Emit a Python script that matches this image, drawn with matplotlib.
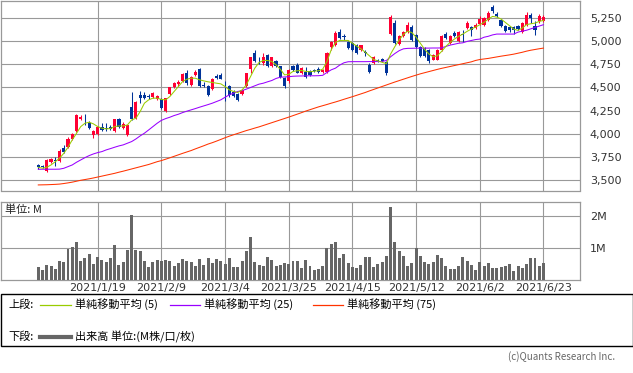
import numpy as np
import matplotlib
matplotlib.use('Agg')
import matplotlib.pyplot as plt
from matplotlib.lines import Line2D
from matplotlib.patches import Rectangle

# daily OHLC (yen), 2020/12 - 2021/6/23
opens = [3665, 3655, 3605, 3700, 3715, 3712, 3845, 3860, 3945, 4030,
         4160, 4165, 4115, 3990, 4000, 4075, 4065, 4075, 4030, 4160,
         4065, 3990, 4290, 4170, 4420, 4420, 4405, 4395, 4370, 4375,
         4250, 4430, 4505, 4540, 4565, 4660, 4530, 4635, 4695, 4530,
         4510, 4485, 4625, 4630, 4520, 4510, 4455, 4430, 4430, 4510,
         4700, 4865, 4795, 4760, 4850, 4725, 4780, 4725, 4600, 4565,
         4725, 4745, 4655, 4670, 4675, 4690, 4700, 4665, 4670, 4940,
         4960, 5100, 5050, 4990, 4975, 4955, 4900, 4880, 4740, 4765,
         4800, 4810, 4775, 5080, 5190, 4970, 5050, 5100, 5150, 5060,
         4930, 4920, 4900, 4800, 4800, 4905, 5075, 4980, 5085, 5000,
         5080, 5140, 5150, 5140, 5185, 5175, 5230, 5370, 5295, 5230,
         5165, 5150, 5150, 5160, 5100, 5175, 5280, 5165, 5210, 5215]
highs = [3680, 3665, 3725, 3745, 3750, 3840, 3875, 3965, 4010, 4215,
         4200, 4215, 4135, 4045, 4085, 4120, 4120, 4100, 4165, 4170,
         4125, 4100, 4455, 4350, 4465, 4450, 4430, 4450, 4420, 4385,
         4390, 4505, 4560, 4580, 4650, 4690, 4620, 4690, 4710, 4560,
         4525, 4600, 4645, 4660, 4565, 4530, 4470, 4440, 4480, 4660,
         4830, 4905, 4830, 4865, 4860, 4830, 4790, 4735, 4610, 4700,
         4745, 4760, 4720, 4720, 4690, 4700, 4720, 4700, 4880, 5000,
         5110, 5130, 5070, 5000, 4990, 4965, 4960, 4900, 4760, 4840,
         4810, 4820, 4785, 5280, 5230, 5060, 5110, 5200, 5170, 5080,
         4945, 4930, 4910, 4860, 4910, 5060, 5100, 5060, 5110, 5110,
         5120, 5215, 5160, 5190, 5270, 5260, 5325, 5385, 5310, 5240,
         5175, 5160, 5165, 5170, 5200, 5310, 5300, 5210, 5290, 5280]
lows = [3625, 3630, 3590, 3685, 3655, 3695, 3795, 3850, 3930, 4020,
        4150, 4100, 4050, 3955, 3990, 4030, 4035, 4040, 4020, 4060,
        4055, 3975, 4150, 4160, 4330, 4380, 4370, 4385, 4360, 4270,
        4240, 4420, 4495, 4520, 4555, 4530, 4520, 4625, 4505, 4500,
        4405, 4475, 4585, 4590, 4350, 4400, 4395, 4350, 4420, 4500,
        4650, 4770, 4750, 4745, 4715, 4715, 4720, 4605, 4490, 4550,
        4680, 4650, 4640, 4600, 4620, 4665, 4650, 4650, 4660, 4900,
        4950, 5020, 5010, 4910, 4895, 4860, 4890, 4840, 4650, 4755,
        4775, 4770, 4630, 5065, 4965, 4960, 5040, 5090, 5000, 4920,
        4830, 4830, 4760, 4790, 4790, 4895, 5020, 4970, 5040, 4990,
        4990, 5130, 5050, 5130, 5175, 5165, 5220, 5300, 5255, 5150,
        5095, 5100, 5080, 5120, 5090, 5165, 5190, 5065, 5195, 5205]
closes = [3640, 3645, 3715, 3725, 3705, 3815, 3805, 3940, 3995, 4200,
          4185, 4155, 4065, 4035, 4075, 4045, 4050, 4055, 4155, 4070,
          4110, 4095, 4160, 4345, 4385, 4390, 4400, 4440, 4405, 4280,
          4385, 4500, 4550, 4555, 4640, 4550, 4610, 4670, 4520, 4515,
          4420, 4590, 4600, 4595, 4510, 4420, 4405, 4365, 4470, 4650,
          4825, 4780, 4790, 4825, 4725, 4825, 4730, 4615, 4510, 4690,
          4690, 4660, 4705, 4615, 4630, 4680, 4665, 4690, 4870, 4985,
          5085, 5030, 5040, 4920, 4905, 4870, 4955, 4870, 4670, 4830,
          4785, 4780, 4650, 5260, 4975, 5050, 5100, 5170, 5010, 4930,
          4840, 4840, 4780, 4850, 4905, 5055, 5030, 5050, 5050, 5100,
          5060, 5190, 5120, 5175, 5235, 5245, 5300, 5320, 5265, 5160,
          5105, 5120, 5120, 5130, 5190, 5280, 5245, 5120, 5265, 5260]

ma5 = [3640, 3630, 3640, 3665, 3700, 3737, 3790, 3855, 3935, 4005,
       4078, 4114, 4125, 4107, 4078, 4060, 4053, 4057, 4078, 4085,
       4085, 4096, 4150, 4168, 4240, 4330, 4366, 4384, 4384, 4370,
       4366, 4402, 4456, 4509, 4563, 4588, 4599, 4599, 4581, 4570,
       4560, 4553, 4545, 4538, 4509, 4473, 4456, 4445, 4473, 4527,
       4617, 4707, 4768, 4790, 4790, 4779, 4743, 4696, 4635, 4640,
       4672, 4679, 4682, 4672, 4668, 4675, 4679, 4697, 4779, 4905,
       4984, 5005, 5006, 5005, 4975, 4945, 4915, 4880, 4840, 4800,
       4785, 4770, 4755, 4860, 4940, 5010, 5070, 5105, 5090, 5040,
       4975, 4910, 4860, 4830, 4840, 4887, 4941, 4984, 5020, 5049,
       5074, 5103, 5128, 5149, 5175, 5200, 5236, 5264, 5257, 5236,
       5200, 5164, 5128, 5113, 5139, 5175, 5185, 5192, 5210, 5221]
ma25 = [3619, 3619, 3619, 3619, 3619, 3620, 3629, 3647, 3665, 3694,
        3719, 3744, 3766, 3784, 3798, 3809, 3827, 3841, 3856, 3870,
        3881, 3899, 3917, 3945, 3978, 4007, 4042, 4078, 4114, 4145,
        4164, 4179, 4197, 4211, 4229, 4244, 4258, 4272, 4287, 4301,
        4315, 4330, 4348, 4366, 4394, 4420, 4438, 4456, 4466, 4481,
        4499, 4517, 4535, 4545, 4560, 4574, 4596, 4610, 4612, 4615,
        4620, 4622, 4623, 4624, 4625, 4625, 4626, 4630, 4661, 4689,
        4707, 4740, 4765, 4776, 4777, 4777, 4777, 4777, 4778, 4778,
        4778, 4779, 4790, 4830, 4865, 4895, 4915, 4920, 4921, 4922,
        4923, 4923, 4923, 4924, 4924, 4925, 4941, 4955, 4965, 4975,
        4980, 4995, 5005, 5015, 5020, 5040, 5050, 5065, 5074, 5074,
        5074, 5074, 5074, 5095, 5105, 5115, 5130, 5145, 5160, 5175]
ma75 = [3450, 3451, 3452, 3454, 3456, 3459, 3465, 3472, 3480, 3490,
        3500, 3508, 3516, 3525, 3535, 3545, 3555, 3565, 3575, 3587,
        3598, 3610, 3622, 3634, 3646, 3658, 3670, 3685, 3700, 3712,
        3727, 3742, 3758, 3774, 3790, 3805, 3820, 3838, 3855, 3872,
        3890, 3905, 3922, 3940, 3958, 3975, 3990, 4005, 4020, 4035,
        4048, 4062, 4075, 4090, 4105, 4120, 4135, 4150, 4165, 4180,
        4196, 4212, 4228, 4245, 4260, 4275, 4290, 4303, 4316, 4330,
        4343, 4357, 4372, 4386, 4400, 4415, 4430, 4445, 4462, 4478,
        4494, 4510, 4526, 4542, 4558, 4573, 4588, 4603, 4618, 4632,
        4646, 4658, 4670, 4682, 4694, 4705, 4715, 4725, 4735, 4745,
        4755, 4765, 4775, 4790, 4800, 4806, 4812, 4820, 4828, 4836,
        4843, 4850, 4858, 4868, 4878, 4890, 4900, 4908, 4916, 4923]

# volume in millions
volume = [0.42, 0.32, 0.47, 0.45, 0.35, 0.60, 0.57, 0.98, 1.04, 1.20,
          0.60, 0.70, 0.82, 0.51, 0.73, 0.64, 0.57, 0.70, 1.10, 0.48,
          0.57, 0.95, 2.04, 0.95, 0.92, 0.60, 0.42, 0.57, 0.64, 0.60,
          0.64, 0.60, 0.45, 0.54, 0.67, 0.60, 0.57, 0.45, 0.67, 0.48,
          0.70, 0.54, 0.67, 0.60, 0.51, 0.70, 0.42, 0.42, 0.60, 0.92,
          1.35, 0.57, 0.48, 0.45, 0.73, 0.64, 0.45, 0.48, 0.54, 0.51,
          0.60, 0.60, 0.39, 0.64, 0.45, 0.32, 0.35, 0.45, 1.01, 1.14,
          1.20, 0.70, 0.82, 0.54, 0.42, 0.39, 0.48, 0.73, 0.73, 0.42,
          0.51, 0.57, 0.76, 2.29, 1.20, 0.92, 0.76, 0.45, 0.54, 1.00,
          0.76, 0.57, 0.51, 0.57, 0.79, 0.70, 0.45, 0.35, 0.35, 0.45,
          0.73, 0.60, 0.48, 0.32, 0.57, 0.45, 0.54, 0.39, 0.39, 0.42,
          0.45, 0.51, 0.29, 0.45, 0.39, 0.51, 0.70, 0.70, 0.45, 0.54]

date_ticks = [14, 29, 44, 59, 74, 89, 104, 119]
date_labels = ['2021/1/19', '2021/2/9', '2021/3/4', '2021/3/25',
               '2021/4/15', '2021/5/12', '2021/6/2', '2021/6/23']
price_ticks = [3500, 3750, 4000, 4250, 4500, 4750, 5000, 5250]

jp = ['Noto Sans CJK JP', 'DejaVu Sans']
UP, DOWN = '#ff0033', '#003399'
GRID = '#999999'

o = np.array(opens); h = np.array(highs); l = np.array(lows); c = np.array(closes)
x = np.arange(len(c))
colors = np.where(c >= o, UP, DOWN)

W, H = 633, 373
fig = plt.figure(figsize=(W / 100, H / 100), dpi=100)


def box(x0, y0, x1, y1):
    return [x0 / W, 1 - y1 / H, (x1 - x0) / W, (y1 - y0) / H]


ax = fig.add_axes(box(0.5, 1, 580, 190.5))
axv = fig.add_axes(box(0.5, 201.7, 580, 280.3))

for a in (ax, axv):
    a.set_xlim(-8.9, 127.6)
    a.set_xticks(date_ticks)
    a.grid(True, color=GRID, lw=0.8)
    a.set_axisbelow(True)
    for s in a.spines.values():
        s.set_color(GRID)
        s.set_linewidth(0.9)
    a.yaxis.tick_right()
    a.tick_params(axis='both', length=0, colors='#333333', labelsize=8)

# price panel
ax.vlines(x, l, h, color=colors, lw=0.75, zorder=2)
ax.bar(x, np.maximum(np.abs(c - o), 10), bottom=np.minimum(o, c), width=0.74,
       color=colors, lw=0, zorder=3)
ax.plot(x, ma75, color='#ff3300', lw=0.75, zorder=4)
ax.plot(x, ma25, color='#9900ff', lw=0.75, zorder=4)
ax.plot(x, ma5, color='#99cc00', lw=0.75, zorder=4)
ax.set_ylim(3390, 5430)
ax.set_yticks(price_ticks)
ax.set_yticklabels([f'{p:,}' for p in price_ticks])
ax.tick_params(axis='y', pad=7)
ax.set_xticklabels([])

# volume panel
axv.bar(x, volume, width=0.7, color='#666666', lw=0, zorder=3)
axv.set_ylim(0, 2.456)
axv.set_yticks([1, 2])
axv.set_yticklabels(['1M', '2M'])
axv.tick_params(axis='y', pad=7)
axv.set_xticklabels(date_labels)
axv.tick_params(axis='x', pad=2)
axv.text(0.008, 0.9, '単位: M', transform=axv.transAxes, fontsize=8,
         family=jp, va='center', ha='left', color='#222222')


def fx(px):
    return px / W


def fy(py):
    return 1 - py / H


# legend box
fig.patches.append(Rectangle((fx(0.5), fy(346)), fx(632), 51.7 / H,
                             transform=fig.transFigure, fill=False,
                             edgecolor='black', lw=1.0))
y1, y2 = 304.5, 337
fig.text(fx(8), fy(y1), '上段:', family=jp, fontsize=8, va='center')
fig.text(fx(8), fy(y2), '下段:', family=jp, fontsize=8, va='center')
legend_items = [(40, 71, 75, '#99cc00', '単純移動平均 (5)'),
                (170, 200, 204, '#9900ff', '単純移動平均 (25)'),
                (313, 343, 347, '#ff3300', '単純移動平均 (75)')]
for xa, xb, xt, col, label in legend_items:
    fig.add_artist(Line2D([fx(xa), fx(xb)], [fy(y1), fy(y1)], color=col, lw=0.9,
                          transform=fig.transFigure))
    fig.text(fx(xt), fy(y1), label, family=jp, fontsize=8, va='center')
fig.add_artist(Line2D([fx(40), fx(71)], [fy(y2), fy(y2)], color='#666666', lw=3.0,
                      transform=fig.transFigure))
fig.text(fx(75), fy(y2), '出来高 単位:(M株/口/枚)', family=jp, fontsize=8, va='center')

fig.text(fx(615), fy(357), '(c)Quants Research Inc.', fontsize=7, color='#666666',
         ha='right', va='center', family=jp)

fig.savefig('out.png', dpi=100)
